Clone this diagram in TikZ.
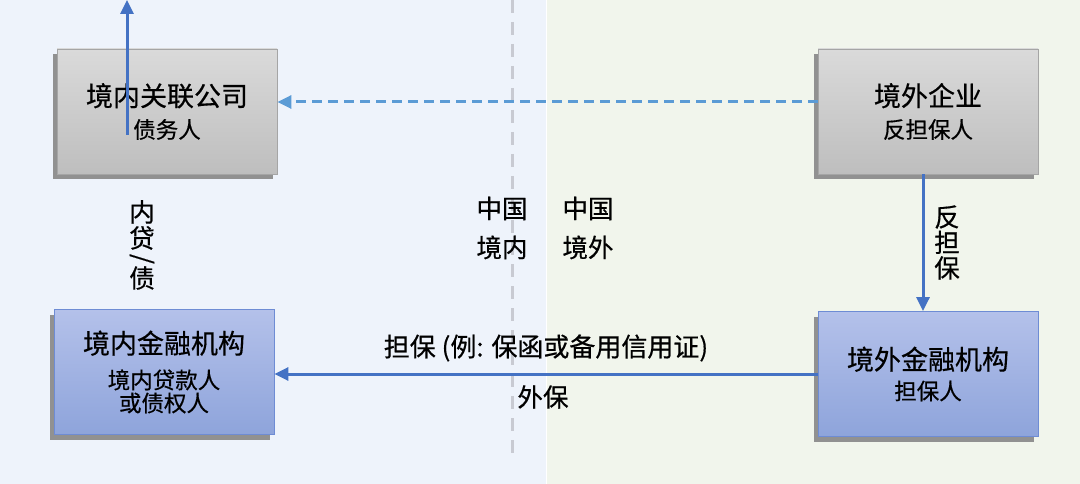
\documentclass[tikz,border=0pt]{standalone}
\usepackage{fontspec}
\setmainfont{Noto Sans CJK SC}[FakeBold=0.5]
\usetikzlibrary{arrows.meta, shadows, positioning}
\definecolor{flowblue}{RGB}{68,114,196}
\definecolor{linkblue}{RGB}{91,155,213}
\definecolor{onshorebg}{RGB}{238,243,251}
\definecolor{offshorebg}{RGB}{241,245,236}
\definecolor{bordergray}{RGB}{200,202,210}
\definecolor{shadowgray}{RGB}{145,145,145}
\definecolor{companytop}{RGB}{218,218,218}
\definecolor{companybottom}{RGB}{190,190,190}
\definecolor{companyedge}{RGB}{165,165,165}
\definecolor{banktop}{RGB}{180,193,234}
\definecolor{bankbottom}{RGB}{142,164,219}
\definecolor{bankedge}{RGB}{110,140,212}
\newcommand{\roleline}[1]{{\fontsize{22.5}{24}\selectfont #1}}
\tikzstyle{party} = [rectangle, minimum width=220pt, minimum height=125pt, align=center, line width=0.8pt, font=\fontsize{27}{32}\selectfont, drop shadow={shadow xshift=-4pt, shadow yshift=-5pt, fill=shadowgray, opacity=1}]
\tikzstyle{company} = [party, draw=companyedge, top color=companytop, bottom color=companybottom]
\tikzstyle{bank} = [party, draw=bankedge, top color=banktop, bottom color=bankbottom]

\begin{document}
\begin{tikzpicture}[x=1pt, y=-1pt]
        \tikzstyle{flow} = [line width=3pt, draw=flowblue, -{Triangle[length=14pt, width=13pt]}]
        \tikzstyle{link} = [flow, draw=linkblue, dash pattern=on 10pt off 6pt]
        \tikzstyle{tag} = [align=center, inner sep=0pt, font=\fontsize{25.5}{26}\selectfont]

        % background: onshore and offshore
        \useasboundingbox (0,0) rectangle (1080,484);
        \fill[white] (0,0) rectangle (1080,484);
        \fill[onshorebg] (0,0) rectangle (545.5,484);
        \fill[offshorebg] (546.5,0) rectangle (1080,484);
        \coordinate (borderTop) at (512,0);
        \coordinate (borderBottom) at (512,458);
        \draw[bordergray, line width=3pt, dash pattern=on 13pt off 9pt] (borderTop) -- (borderBottom);

        \node[company] (debtor) at (167,111.5) {境内关联公司\\\roleline{债务人}};
        \node[company] (counter) at (928,111.5) {境外企业\\\roleline{反担保人}};
        \node[bank] (lender) at (164,372) {境内金融机构\\[3pt]\roleline{境内贷款人}\\[-9pt]\roleline{或债权人}};
        \node[bank] (guarantor) at (928,374) {境外金融机构\\[-2pt]\roleline{担保人}};

        \node[tag] (onshoreTag) at (502,228) {中国\\[13pt]境内};
        \node[tag] (offshoreTag) at (588,228) {中国\\[13pt]境外};
        \node[tag] (loanTag) at (142,225) {内\\贷};
        \node[tag, rotate=-90] (loanSlash) at (142,259) {/};
        \node[tag] (loanTagEnd) at (142,278) {债};
        \node[tag, font=\fontsize{25.5}{25.5}\selectfont] (counterTag) at (947,242.5) {反\\担\\保};

        \coordinate (loanEnd) at (127,0);
        \draw[flow] ([xshift=-40pt, yshift=-23.5pt]debtor.center) -- (loanEnd);
        \draw[link] ([yshift=9.5pt]counter.west) -- ([yshift=9.5pt]debtor.east);
        \draw[flow] ([xshift=-5pt]counter.south) -- ([xshift=-5pt]counter.south |- guarantor.north);
        \draw[flow] (guarantor.west) -- (guarantor.west -| lender.east)
            node[tag, midway, yshift=26pt, font=\fontsize{26}{26}\selectfont] (guaranteeTag) {担保 (例: 保函或备用信用证)}
            node[tag, midway, xshift=-3pt, yshift=-23pt] (outboundTag) {外保};

    \end{tikzpicture}
\end{document}
